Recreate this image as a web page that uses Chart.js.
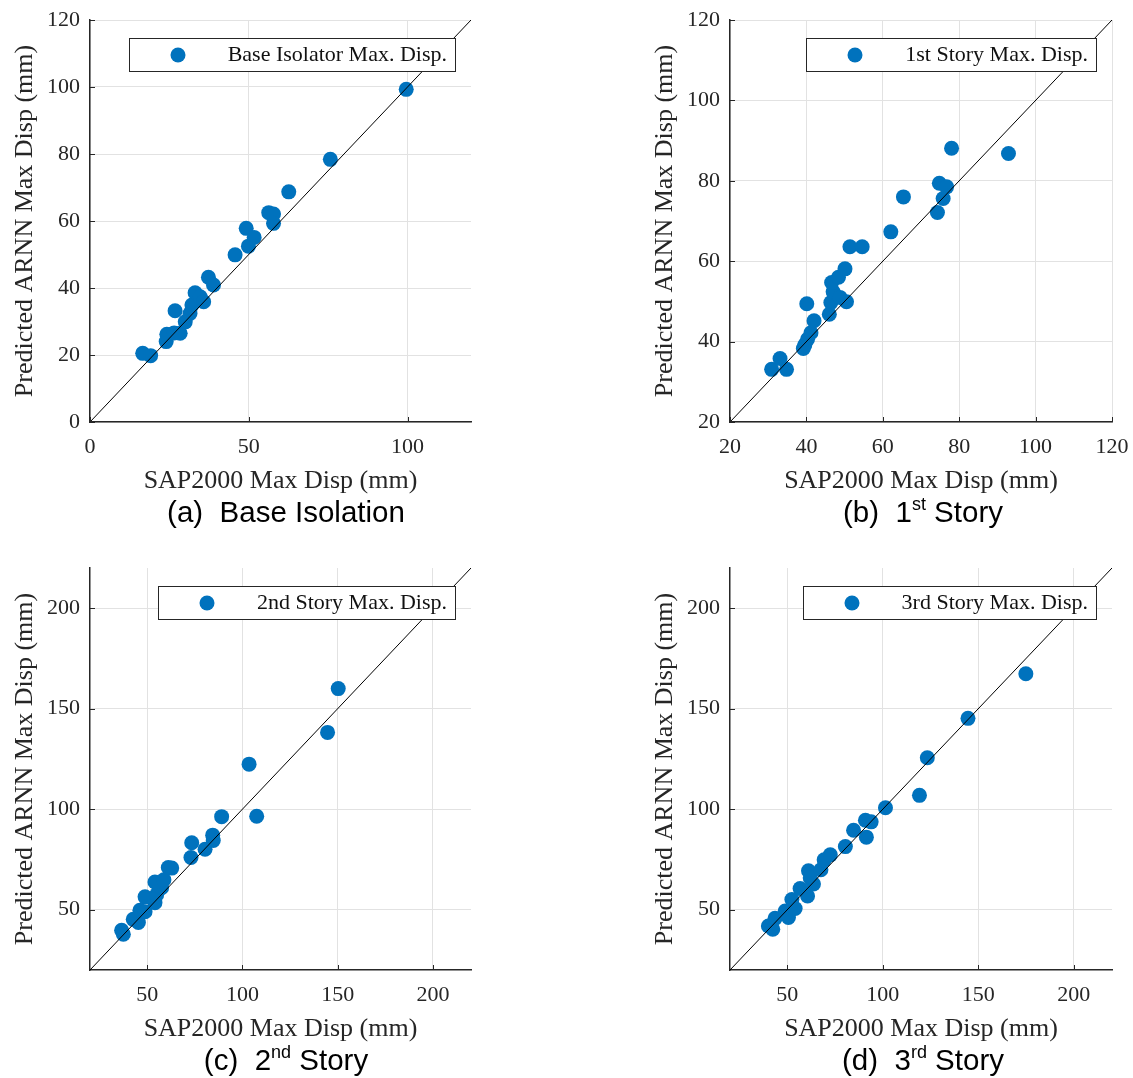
<!DOCTYPE html>
<html>
<head>
<meta charset="utf-8">
<script src="https://cdn.jsdelivr.net/npm/chart.js@4.4.1/dist/chart.umd.min.js"></script>
<style>
  body { margin: 0; background: #fff; width: 1133px; height: 1078px; position: relative; overflow: hidden; }
  .panel { position: absolute; width: 490px; height: 500px; }
  .cap { position: absolute; width: 382px; text-align: center; white-space: nowrap;
         font-family: 'Liberation Sans', Arial, sans-serif; font-size: 29.5px; color: #000; line-height: 32px; }
  .cap sup { font-size: 18px; vertical-align: 12px; line-height: 0; }
</style>
</head>
<body>
<div class="panel" style="left:0;top:0"><canvas id="chartA"></canvas></div>
<div class="panel" style="left:640px;top:0"><canvas id="chartB"></canvas></div>
<div class="panel" style="left:0;top:548px"><canvas id="chartC"></canvas></div>
<div class="panel" style="left:640px;top:548px"><canvas id="chartD"></canvas></div>

<div class="cap" style="left:95px;top:496px">(a)&nbsp; Base Isolation</div>
<div class="cap" style="left:732px;top:496px">(b)&nbsp; 1<sup>st</sup> Story</div>
<div class="cap" style="left:95px;top:1044px">(c)&nbsp; 2<sup>nd</sup> Story</div>
<div class="cap" style="left:732px;top:1044px">(d)&nbsp; 3<sup>rd</sup> Story</div>

<script>
// (a) base isolator - SAP2000 vs predicted (mm)
var baseX = [16.6, 19.1, 24.0, 24.2, 26.5, 28.4, 26.8, 30.0, 31.5, 32.1, 33.1, 34.7, 35.8, 37.3, 38.9, 45.7, 49.9, 49.2, 51.7, 56.3, 57.8, 57.8, 62.6, 75.7, 99.6];
var baseY = [20.5, 19.8, 24.0, 26.2, 26.6, 26.5, 33.2, 29.9, 32.4, 34.9, 38.6, 37.4, 35.9, 43.2, 40.9, 49.9, 52.5, 57.8, 55.1, 62.5, 62.1, 59.3, 68.7, 78.4, 99.3];

// (b) 1st story
var s1X = [30.9, 33.1, 34.8, 39.2, 39.6, 40.3, 41.2, 42.0, 40.1, 46.0, 46.4, 47.0, 46.6, 48.4, 48.8, 50.5, 50.1, 51.4, 54.6, 62.1, 65.4, 74.3, 74.8, 75.8, 76.7, 78.0, 92.9];
var s1Y = [33.1, 35.8, 33.1, 38.3, 39.2, 40.6, 42.2, 45.2, 49.4, 46.8, 49.7, 52.4, 54.7, 56.0, 51.0, 49.9, 58.1, 63.6, 63.6, 67.3, 76.0, 72.1, 79.4, 75.6, 78.5, 88.1, 86.8];

// (c) 2nd story
var s2X = [36.6, 37.5, 42.7, 45.4, 46.2, 48.9, 48.9, 54.1, 55.0, 57.6, 54.1, 58.8, 61.1, 62.9, 73.0, 73.4, 80.4, 84.4, 84.7, 89.1, 103.5, 107.5, 144.7, 150.3];
var s2Y = [39.8, 37.8, 45.2, 43.6, 49.7, 49.0, 56.4, 53.5, 57.5, 60.9, 63.8, 64.9, 71.0, 70.7, 76.0, 83.3, 80.1, 87.1, 84.4, 96.3, 122.4, 96.5, 138.2, 160.0];

// (d) 3rd story
var s3X = [40.1, 42.4, 43.6, 48.9, 50.6, 52.4, 54.1, 56.7, 60.6, 61.1, 62.0, 63.7, 67.6, 69.3, 72.5, 80.4, 84.7, 90.9, 93.9, 91.4, 101.4, 119.2, 123.3, 144.6, 174.9];
var s3Y = [41.9, 40.3, 45.7, 49.3, 46.1, 55.1, 50.6, 60.5, 56.8, 69.4, 65.8, 62.8, 69.9, 74.8, 77.3, 81.4, 89.5, 94.5, 93.7, 86.1, 100.7, 106.9, 125.6, 145.2, 167.4];

// axis ranges and tick labels
var rangeA = [0, 120];
var rangeB = [20, 120];
var rangeCD = [20, 220];
var ticksAx = [0, 50, 100];
var ticksAy = [0, 20, 40, 60, 80, 100, 120];
var ticksB = [20, 40, 60, 80, 100, 120];
var ticksCD = [50, 100, 150, 200];

Chart.defaults.font.family = "'Liberation Serif', 'Times New Roman', serif";
Chart.defaults.color = '#262626';

// MATLAB style ticks pointing into the plot
const innerTicks = {
    id: 'innerTicks',
    afterDatasetsDraw(chart) {
        const {ctx, chartArea, scales} = chart;
        ctx.save();
        ctx.strokeStyle = '#262626';
        ctx.lineWidth = 1;
        ctx.beginPath();
        scales.x.ticks.forEach(t => {
            const px = Math.round(scales.x.getPixelForValue(t.value)) + 0.5;
            ctx.moveTo(px, chartArea.bottom);
            ctx.lineTo(px, chartArea.bottom - 5);
        });
        scales.y.ticks.forEach(t => {
            const py = Math.round(scales.y.getPixelForValue(t.value)) + 0.5;
            ctx.moveTo(chartArea.left, py);
            ctx.lineTo(chartArea.left + 5, py);
        });
        ctx.stroke();
        ctx.restore();
    }
};

// boxed legend in the top right corner
const legendBox = {
    id: 'legendBox',
    afterDatasetsDraw(chart, args, opts) {
        const {ctx, chartArea} = chart;
        ctx.save();
        ctx.font = "22px 'Liberation Serif', 'Times New Roman', serif";
        const tw = ctx.measureText(opts.text).width;
        const right = chartArea.right - 16, top = chartArea.top + 18, h = 33;
        const left = Math.round(right - tw - 107);
        ctx.fillStyle = '#fff';
        ctx.fillRect(left, top, right - left, h);
        ctx.strokeStyle = '#262626';
        ctx.lineWidth = 1;
        ctx.strokeRect(left + 0.5, top + 0.5, right - left, h);
        ctx.fillStyle = '#0072BD';
        ctx.beginPath();
        ctx.arc(left + 49, top + h / 2 + 0.5, 7.5, 0, Math.PI * 2);
        ctx.fill();
        ctx.fillStyle = '#111';
        ctx.textAlign = 'right';
        ctx.textBaseline = 'middle';
        ctx.fillText(opts.text, right - 8, top + h / 2 + 1);
        ctx.restore();
    }
};

function makeChart(id, xs, ys, range, xTicks, yTicks, label, padRight) {
    var pts = xs.map((v, i) => ({x: v, y: ys[i]}));
    var diag = [{x: range[0], y: range[0]}, {x: range[1], y: range[1]}];
    var grid = {color: '#e2e2e2', lineWidth: 1, drawTicks: false};
    var border = {color: '#262626', width: 1.5};
    return new Chart(document.getElementById(id), {
        type: 'scatter',
        data: {
            datasets: [
                {data: diag, showLine: true, pointRadius: 0, borderColor: '#000', borderWidth: 1},
                {data: pts, pointRadius: 7.5, pointHoverRadius: 7.5, borderWidth: 0,
                 backgroundColor: '#0072BD'}
            ]
        },
        options: {
            responsive: true,
            maintainAspectRatio: false,
            animation: false,
            layout: {padding: {top: 20, right: padRight, bottom: 0, left: 0}},
            plugins: {
                legend: {display: false},
                tooltip: {enabled: false},
                legendBox: {text: label}
            },
            scales: {
                x: {
                    type: 'linear', min: range[0], max: range[1],
                    afterBuildTicks: s => { s.ticks = xTicks.map(v => ({value: v})); },
                    afterFit: s => { s.height = 78; s.paddingLeft = 0; s.paddingRight = 0; },
                    grid: grid, border: border,
                    ticks: {padding: 12, maxRotation: 0, font: {size: 22}},
                    title: {display: true, text: 'SAP2000 Max Disp (mm)', font: {size: 26},
                            padding: {top: 0, bottom: 3}}
                },
                y: {
                    type: 'linear', min: range[0], max: range[1],
                    afterBuildTicks: s => { s.ticks = yTicks.map(v => ({value: v})); },
                    afterFit: s => { s.width = 90; s.paddingTop = 0; s.paddingBottom = 0; },
                    grid: grid, border: border,
                    ticks: {padding: 10, font: {size: 22}},
                    title: {display: true, text: 'Predicted ARNN Max Disp (mm)', font: {size: 26},
                            padding: {top: 10, bottom: 0}}
                }
            }
        },
        plugins: [innerTicks, legendBox]
    });
}

makeChart('chartA', baseX, baseY, rangeA, ticksAx, ticksAy, 'Base Isolator Max. Disp.', 19);
makeChart('chartB', s1X, s1Y, rangeB, ticksB, ticksB, '1st Story Max. Disp.', 18);
makeChart('chartC', s2X, s2Y, rangeCD, ticksCD, ticksCD, '2nd Story Max. Disp.', 19);
makeChart('chartD', s3X, s3Y, rangeCD, ticksCD, ticksCD, '3rd Story Max. Disp.', 18);
</script>
</body>
</html>
